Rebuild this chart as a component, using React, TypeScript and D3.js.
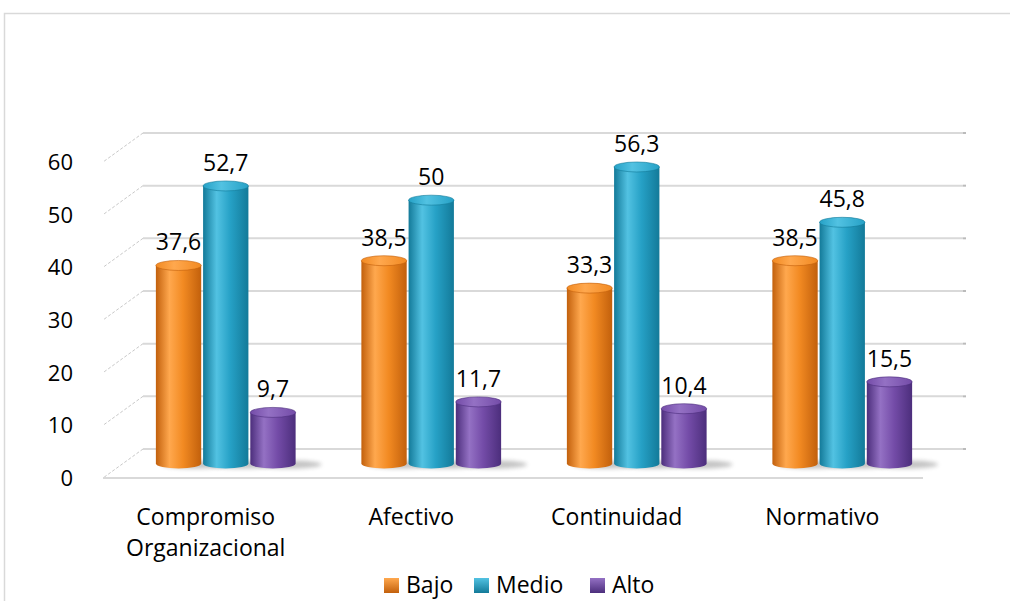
import React from "react";
import * as d3 from "d3";

const categories = [["Compromiso", "Organizacional"], ["Afectivo"], ["Continuidad"], ["Normativo"]];
const categoryKeys = ["Compromiso Organizacional", "Afectivo", "Continuidad", "Normativo"];
const seriesNames = ["Bajo", "Medio", "Alto"];
const bajo = [37.6, 38.5, 33.3, 38.5];
const medio = [52.7, 50, 56.3, 45.8];
const alto = [9.7, 11.7, 10.4, 15.5];
const labelsBajo = ["37,6", "38,5", "33,3", "38,5"];
const labelsMedio = ["52,7", "50", "56,3", "45,8"];
const labelsAlto = ["9,7", "11,7", "10,4", "15,5"];
const yTicks = [0, 10, 20, 30, 40, 50, 60];

const seriesValues = [bajo, medio, alto];
const seriesLabels = [labelsBajo, labelsMedio, labelsAlto];
const palette = [
  { dark: "#c2600c", mid: "#f28a22", light: "#ffa84e", top: "#f7a247" },
  { dark: "#137a99", mid: "#26a1c6", light: "#52c2e2", top: "#3db5d8" },
  { dark: "#4c2e7c", mid: "#744ca8", light: "#9471c4", top: "#8a63bd" },
];

const FONT = "'Open Sans', 'Noto Sans', sans-serif";

export default function App() {
  const W = 1010, H = 601;
  const depthX = -40, depthY = 29;
  const backLeft = 143, backRight = 963;
  const yBack = d3.scaleLinear().domain([0, 60]).range([449, 133]);
  const yBar = d3.scaleLinear().domain([0, 60]).range([449 + depthY / 2, 133 + depthY / 2]);
  const yFront = d3.scaleLinear().domain([0, 60]).range([449 + depthY, 133 + depthY]);
  const x0 = d3.scaleBand<string>().domain(categoryKeys).range([backLeft + depthX / 2, 945]).paddingInner(0.32).paddingOuter(0.16);
  const x1 = d3.scaleBand<string>().domain(seriesNames).range([0, x0.bandwidth()]).paddingInner(0.04);
  const bw = x1.bandwidth();
  const ry = 5;

  return (
    <svg width={W} height={H} style={{ position: "absolute", left: 0, top: 0, background: "#fff" }} fontFamily={FONT}>
      <defs>
        {palette.map((p, i) => (
          <linearGradient key={i} id={`cyl${i}`} x1="0" x2="1" y1="0" y2="0">
            <stop offset="0" stopColor={p.dark} />
            <stop offset="0.3" stopColor={p.light} />
            <stop offset="0.6" stopColor={p.mid} />
            <stop offset="1" stopColor={p.dark} />
          </linearGradient>
        ))}
        {palette.map((p, i) => (
          <linearGradient key={"t" + i} id={`top${i}`} x1="0" x2="1" y1="0" y2="0">
            <stop offset="0" stopColor={p.mid} />
            <stop offset="0.4" stopColor={p.light} />
            <stop offset="1" stopColor={p.mid} />
          </linearGradient>
        ))}
        {palette.map((p, i) => (
          <linearGradient key={"l" + i} id={`leg${i}`} x1="0" x2="0" y1="0" y2="1">
            <stop offset="0" stopColor={p.light} />
            <stop offset="1" stopColor={p.dark} />
          </linearGradient>
        ))}
        <filter id="blur" x="-50%" y="-50%" width="200%" height="200%">
          <feGaussianBlur stdDeviation="2" />
        </filter>
      </defs>

      {/* chart border */}
      <path d={`M4.5,${H} L4.5,13.5 L${W},13.5`} fill="none" stroke="#d9d9d9" strokeWidth={1.5} />

      {/* back wall gridlines + side wall diagonals */}
      {yTicks.map((t) => (
        <g key={t}>
          <line x1={backLeft} x2={backRight} y1={yBack(t)} y2={yBack(t)} stroke="#d9d9d9" strokeWidth={2} />
          <line x1={backLeft} x2={backLeft + depthX} y1={yBack(t)} y2={yBack(t) + depthY} stroke="#c8c8c8" strokeWidth={1} strokeDasharray="3,2" />
          <line x1={backRight} x2={backRight + 3} y1={yBack(t)} y2={yBack(t)} stroke="#bbb" strokeWidth={2} />
        </g>
      ))}
      {/* floor front edge */}
      <line x1={backLeft + depthX} x2={923} y1={yFront(0)} y2={yFront(0)} stroke="#d9d9d9" strokeWidth={2} />

      {/* y axis labels */}
      {yTicks.map((t) => (
        <text key={t} x={73} y={yFront(t)} dy="0.36em" textAnchor="end" fontSize={22} fill="#000">{t}</text>
      ))}

      {/* cylinders */}
      {categoryKeys.map((c, ci) => (
        <g key={c}>
          {seriesNames.map((s, si) => {
            const v = seriesValues[si][ci];
            const x = (x0(c) as number) + (x1(s) as number);
            const yb = yBar(0);
            const yt = yBar(v);
            const cx = x + bw / 2;
            return (
              <g key={s}>
                <ellipse cx={cx + 16} cy={yb + 1} rx={bw / 2 + 10} ry={4} fill="#555" opacity={0.35} filter="url(#blur)" />
                <path
                  d={`M${x},${yt} L${x},${yb} A${bw / 2},${ry} 0 0 0 ${x + bw},${yb} L${x + bw},${yt} Z`}
                  fill={`url(#cyl${si})`}
                />
                <ellipse cx={cx} cy={yt} rx={bw / 2} ry={ry} fill={`url(#top${si})`} stroke={palette[si].dark} strokeWidth={0.6} />
                <text x={cx} y={yt - 15} textAnchor="middle" fontSize={23} fill="#000">{seriesLabels[si][ci]}</text>
              </g>
            );
          })}
        </g>
      ))}

      {/* category labels (front plane) */}
      {categoryKeys.map((c, ci) => (
        <text key={c} textAnchor="middle" fontSize={23} fill="#000">
          {categories[ci].map((line, li) => (
            <tspan key={li} x={(x0(c) as number) + x0.bandwidth() / 2 + depthX / 2} y={525 + li * 31}>{line}</tspan>
          ))}
        </text>
      ))}

      {/* legend */}
      {seriesNames.map((s, si) => {
        const lx = [384, 474, 590][si];
        return (
          <g key={s}>
            <rect x={lx} y={578} width={15} height={15} fill={`url(#leg${si})`} />
            <text x={lx + 22} y={593} fontSize={23} fill="#000">{s}</text>
          </g>
        );
      })}
    </svg>
  );
}
